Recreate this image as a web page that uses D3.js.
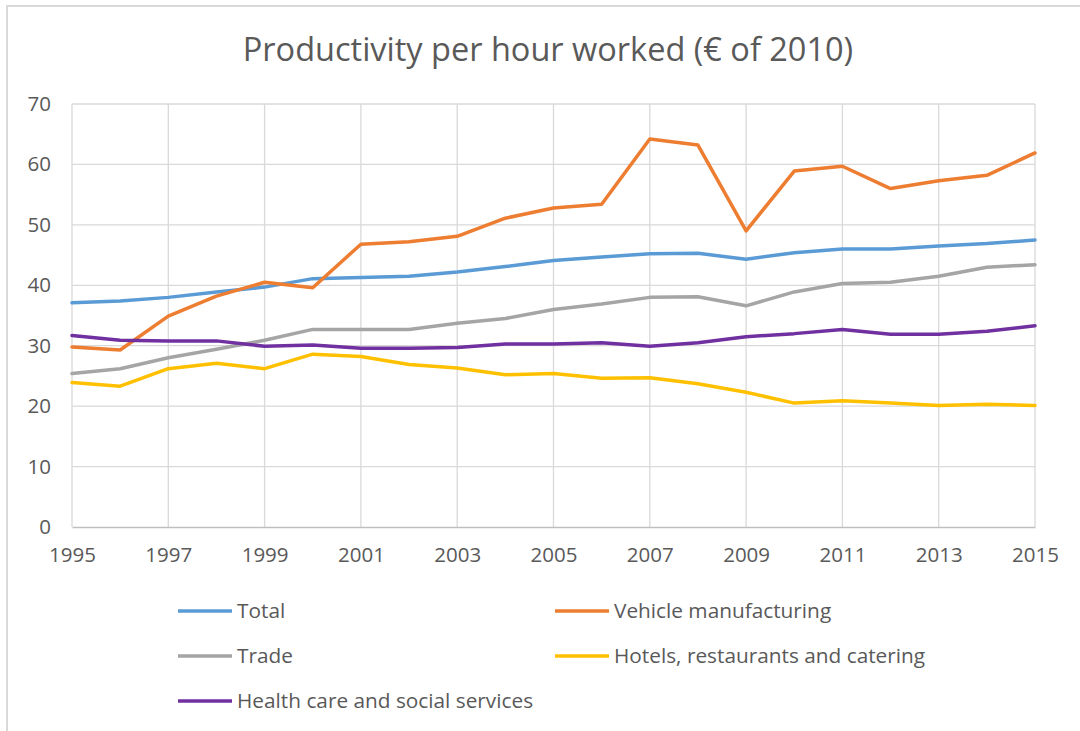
<!DOCTYPE html>
<html>
<head>
<meta charset="utf-8">
<script src="https://cdn.jsdelivr.net/npm/d3@7/dist/d3.min.js"></script>
<style>
  html, body { margin: 0; padding: 0; background: #fff; }
  svg { display: block; font-family: "Open Sans", "Noto Sans", sans-serif; }
</style>
</head>
<body>
<svg id="chart" width="1080" height="731"></svg>
<script>
// Productivity per hour worked, euros at 2010 prices
const years = [1995, 1996, 1997, 1998, 1999, 2000, 2001, 2002, 2003, 2004,
               2005, 2006, 2007, 2008, 2009, 2010, 2011, 2012, 2013, 2014, 2015];

const total = [37.1, 37.4, 38.0, 38.9, 39.7, 41.1, 41.3, 41.5, 42.2, 43.1,
               44.1, 44.7, 45.2, 45.3, 44.3, 45.4, 46.0, 46.0, 46.5, 46.9, 47.5];
const vehicle = [29.8, 29.3, 34.9, 38.2, 40.5, 39.6, 46.8, 47.2, 48.1, 51.1,
                 52.8, 53.4, 64.2, 63.2, 49.0, 58.9, 59.7, 56.0, 57.3, 58.2, 61.9];
const trade = [25.4, 26.2, 28.0, 29.4, 30.9, 32.7, 32.7, 32.7, 33.7, 34.5,
               36.0, 36.9, 38.0, 38.1, 36.6, 38.9, 40.3, 40.5, 41.5, 43.0, 43.4];
const hotels = [23.9, 23.3, 26.2, 27.1, 26.2, 28.6, 28.2, 26.9, 26.3, 25.2,
                25.4, 24.6, 24.7, 23.7, 22.3, 20.5, 20.9, 20.5, 20.1, 20.3, 20.1];
const health = [31.7, 30.9, 30.8, 30.8, 29.9, 30.1, 29.6, 29.6, 29.7, 30.3,
                30.3, 30.5, 29.9, 30.5, 31.5, 32.0, 32.7, 31.9, 31.9, 32.4, 33.3];

const seriesNames = ["Total", "Vehicle manufacturing", "Trade",
                     "Hotels, restaurants and catering", "Health care and social services"];
const seriesValues = [total, vehicle, trade, hotels, health];
const seriesColors = ["#5b9bd5", "#ed7d31", "#a5a5a5", "#ffc000", "#7030a0"];

const xTicks = [1995, 1997, 1999, 2001, 2003, 2005, 2007, 2009, 2011, 2013, 2015];
const yTicks = [0, 10, 20, 30, 40, 50, 60, 70];
const titleText = "Productivity per hour worked (\u20AC of 2010)";

const svg = d3.select("#chart");
const textColor = "#595959";
const gridColor = "#d9d9d9";

// outer chart frame
svg.append("rect")
  .attr("x", 7).attr("y", 6)
  .attr("width", 1090).attr("height", 740)
  .attr("fill", "none")
  .attr("stroke", gridColor)
  .attr("stroke-width", 2);

const plot = { left: 72, right: 1035, top: 104, bottom: 527 };

const x = d3.scaleLinear().domain([1995, 2015]).range([plot.left, plot.right]);
const y = d3.scaleLinear().domain([0, 70]).range([plot.bottom, plot.top]);

// title
svg.append("text")
  .attr("x", 548).attr("y", 61)
  .attr("text-anchor", "middle")
  .attr("fill", textColor)
  .attr("font-size", 32.5)
  .text(titleText);

// horizontal gridlines
svg.append("g")
  .selectAll("line")
  .data(yTicks.filter(d => d > 0))
  .join("line")
  .attr("x1", plot.left).attr("x2", plot.right)
  .attr("y1", d => y(d)).attr("y2", d => y(d))
  .attr("stroke", gridColor).attr("stroke-width", 1.3);

// vertical gridlines
svg.append("g")
  .selectAll("line")
  .data(xTicks)
  .join("line")
  .attr("x1", d => x(d)).attr("x2", d => x(d))
  .attr("y1", plot.top).attr("y2", plot.bottom)
  .attr("stroke", gridColor).attr("stroke-width", 1.3);

// y axis labels
const yAxis = d3.axisLeft(y).tickValues(yTicks).tickSize(0).tickPadding(21);
svg.append("g")
  .attr("transform", `translate(${plot.left},0)`)
  .call(yAxis)
  .call(g => g.select(".domain").remove())
  .call(g => g.selectAll("text")
    .attr("fill", textColor)
    .attr("font-size", 20.5)
    .attr("font-family", "'Open Sans', sans-serif"));

// x axis
const xAxis = d3.axisBottom(x).tickValues(xTicks).tickFormat(d3.format("d")).tickSize(0).tickPadding(20);
svg.append("g")
  .attr("transform", `translate(0,${plot.bottom})`)
  .call(xAxis)
  .call(g => g.select(".domain").attr("stroke", "#bfbfbf").attr("stroke-width", 1.5))
  .call(g => g.selectAll("text")
    .attr("fill", textColor)
    .attr("font-size", 20.5)
    .attr("font-family", "'Open Sans', sans-serif"));

// series lines
const line = d3.line()
  .x((d, i) => x(years[i]))
  .y(d => y(d));

svg.append("g")
  .selectAll("path")
  .data(seriesValues)
  .join("path")
  .attr("d", d => line(d))
  .attr("fill", "none")
  .attr("stroke", (d, i) => seriesColors[i])
  .attr("stroke-width", 3.5)
  .attr("stroke-linejoin", "round")
  .attr("stroke-linecap", "round");

// legend
const legendPos = [
  { x: 178, y: 611 }, { x: 555, y: 611 },
  { x: 178, y: 656 }, { x: 555, y: 656 },
  { x: 178, y: 701 }
];
const legend = svg.append("g")
  .selectAll("g")
  .data(seriesNames)
  .join("g")
  .attr("transform", (d, i) => `translate(${legendPos[i].x},${legendPos[i].y})`);

legend.append("line")
  .attr("x1", 0).attr("x2", 54)
  .attr("y1", 0).attr("y2", 0)
  .attr("stroke", (d, i) => seriesColors[i])
  .attr("stroke-width", 3.5);

legend.append("text")
  .attr("x", 59).attr("y", 0)
  .attr("dy", "0.35em")
  .attr("fill", textColor)
  .attr("font-size", 20.8)
  .text(d => d);
</script>
</body>
</html>
